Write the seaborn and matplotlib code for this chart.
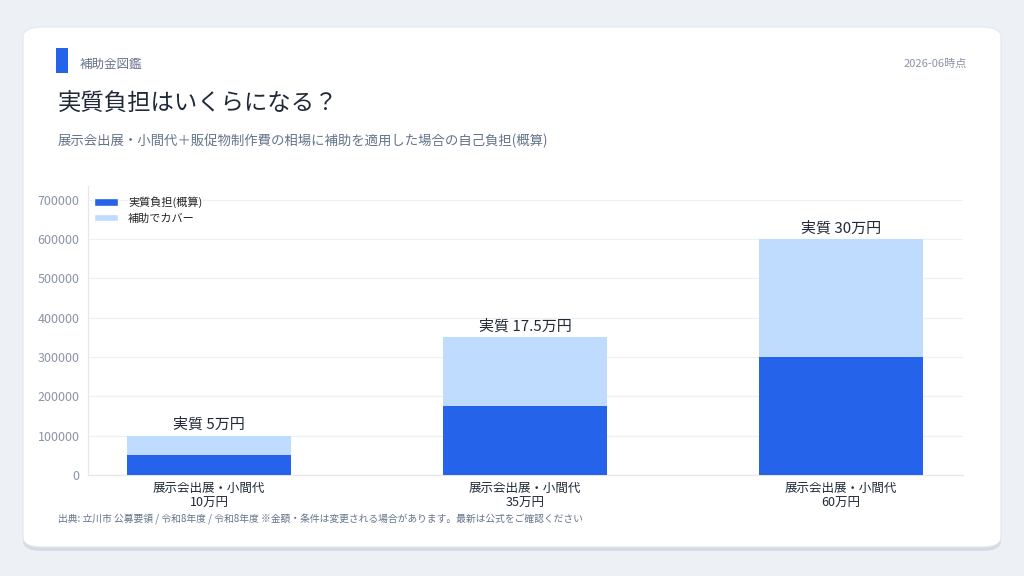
import numpy as np
import pandas as pd
import seaborn as sns
import matplotlib.pyplot as plt
from matplotlib.patches import FancyBboxPatch, Rectangle, Patch


# =========================================================
# DATA
# =========================================================

categories = ["展示会出展・小間代\n10万円", "展示会出展・小間代\n35万円", "展示会出展・小間代\n60万円"]
total_cost = [100000, 350000, 600000]
self_burden = [50000, 175000, 300000]
bar_labels = ["実質 5万円", "実質 17.5万円", "実質 30万円"]

DARK = "#2563eb"
LIGHT = "#bfdbfe"
BG = "#edf1f6"

sns.set_theme(style="white")
plt.rcParams["font.family"] = ["Noto Sans CJK JP", "DejaVu Sans"]

df = pd.DataFrame({"cat": categories, "total": total_cost, "burden": self_burden})

fig = plt.figure(figsize=(10.24, 5.76), dpi=100)
fig.patch.set_facecolor(BG)

# card with soft shadow (drawn beneath the axes)
shadow = FancyBboxPatch((23 / 1024, 1 - 551 / 576), 978 / 1024, 520 / 576,
                        boxstyle="round,pad=0,rounding_size=0.018",
                        transform=fig.transFigure, facecolor="#d5dbe4",
                        edgecolor="none", zorder=-3)
card = FancyBboxPatch((23 / 1024, 1 - 547 / 576), 978 / 1024, 520 / 576,
                      boxstyle="round,pad=0,rounding_size=0.018",
                      transform=fig.transFigure, facecolor="white",
                      edgecolor="#e2e8f0", linewidth=0.8, zorder=-2)
fig.patches.extend([shadow, card])
fig.patches.append(Rectangle((56 / 1024, 1 - 73 / 576), 12 / 1024, 25 / 576,
                             transform=fig.transFigure, facecolor=DARK,
                             edgecolor="none", zorder=-1))

# header texts
fig.text(80 / 1024, 1 - 64 / 576, "補助金図鑑", fontsize=9, color="#64748b", va="center")
fig.text(967 / 1024, 1 - 64 / 576, "2026-06時点", fontsize=8, color="#8a94a6",
         va="center", ha="right")
fig.text(58 / 1024, 1 - 104 / 576, "実質負担はいくらになる？", fontsize=16.8,
         color="#1f2937", va="center")
fig.text(58 / 1024, 1 - 141 / 576,
         "展示会出展・小間代＋販促物制作費の相場に補助を適用した場合の自己負担(概算)",
         fontsize=9.65, color="#64748b", va="center")
fig.text(58 / 1024, 1 - 519 / 576,
         "出典: 立川市 公募要領 / 令和8年度 / 令和8年度 ※金額・条件は変更される場合があります。最新は公式をご確認ください",
         fontsize=7.05, color="#64748b", va="center")

# =========================================================
# CHART
# =========================================================

ax = fig.add_axes([88 / 1024, 1 - 475 / 576, 875 / 1024, 289 / 576])
ax.set_facecolor("white")

sns.barplot(data=df, x="cat", y="total", color=LIGHT, width=0.52,
            saturation=1, ax=ax, zorder=2, linewidth=0)
sns.barplot(data=df, x="cat", y="burden", color=DARK, width=0.52,
            saturation=1, ax=ax, zorder=3, linewidth=0)

for i, (tot, lab) in enumerate(zip(total_cost, bar_labels)):
    ax.text(i, tot + 9000, lab, ha="center", va="bottom", fontsize=10.8, color="#1f2937")

ax.set_xlim(-0.383, 2.386)
ax.set_ylim(0, 735000)
ax.set_yticks(np.arange(0, 700001, 100000))
ax.yaxis.grid(True, color="#eef0f3", linewidth=0.9, zorder=0)
ax.set_axisbelow(True)
ax.set_xlabel("")
ax.set_ylabel("")
ax.tick_params(axis="y", labelsize=9, labelcolor="#8a94a6", length=3, color="#cbd5e1", pad=3)
ax.tick_params(axis="x", labelsize=9, labelcolor="#1f2937", length=3, color="#cbd5e1", pad=2)
ax.ticklabel_format(axis="y", style="plain")
for side in ["top", "right"]:
    ax.spines[side].set_visible(False)
for side in ["left", "bottom"]:
    ax.spines[side].set_color("#e5e7eb")
    ax.spines[side].set_linewidth(0.9)

handles = [Patch(facecolor=DARK, label="実質負担(概算)"),
           Patch(facecolor=LIGHT, label="補助でカバー")]
ax.legend(handles=handles, loc="upper left", frameon=False, fontsize=8,
          handlelength=2.2, handleheight=0.7, handletextpad=0.9,
          bbox_to_anchor=(-0.005, 1.0))

fig.savefig("out.png", dpi=100, facecolor=BG)
